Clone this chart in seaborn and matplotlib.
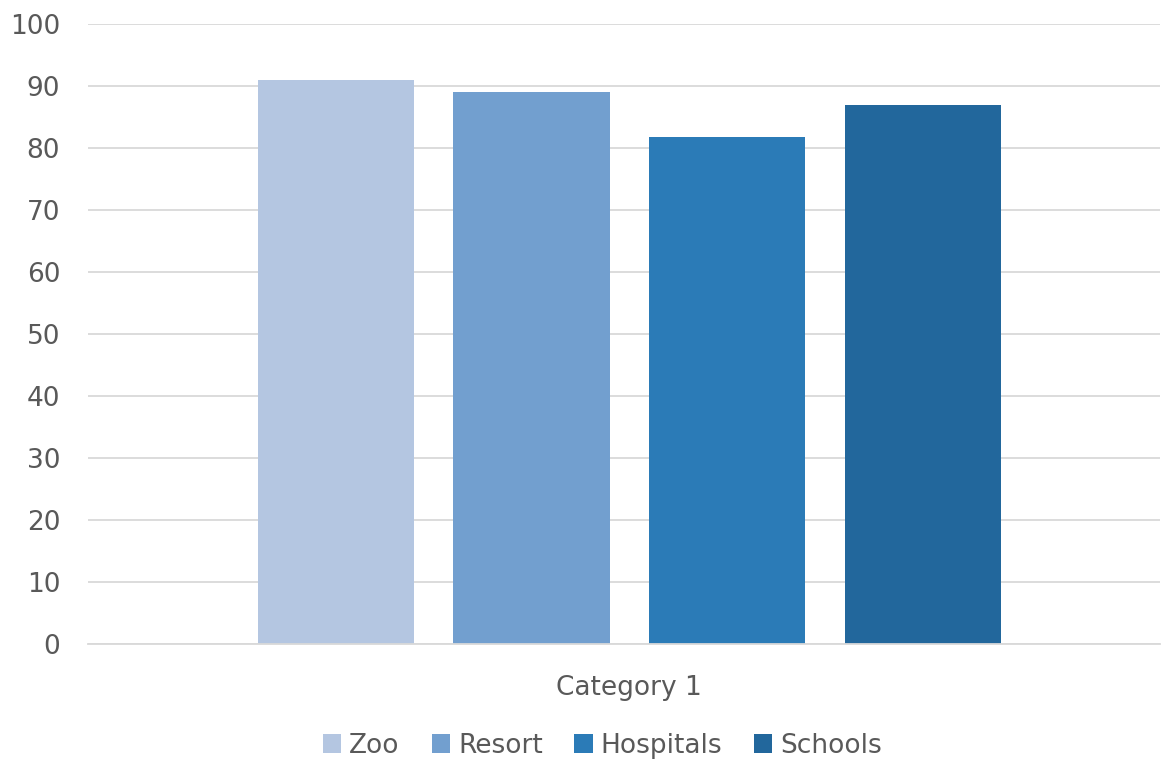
import pandas as pd
import matplotlib.pyplot as plt
import seaborn as sns

# datos
categorias = ["Category 1"]
series = ["Zoo", "Resort", "Hospitals", "Schools"]
valores = [91, 89, 81.7, 87]
colores = ["#B4C6E1", "#729FCF", "#2B7BB7", "#22679C"]

df = pd.DataFrame({
    "categoria": categorias * len(series),
    "serie": series,
    "valor": valores,
})

sns.set_theme(style="white")
plt.rcParams["font.family"] = ["DejaVu Sans"]
gris = "#595959"

fig = plt.figure(figsize=(11.61, 7.59), dpi=100)
ax = fig.add_axes([88 / 1161, 1 - 644 / 759, 1072 / 1161, 620 / 759])

sns.barplot(
    data=df, x="categoria", y="valor", hue="serie",
    palette=colores, width=0.73, gap=0.2, saturation=1, linewidth=0,
    ax=ax, legend=True,
)

ax.set_ylim(0, 100)
ax.set_yticks(range(0, 101, 10))
ax.set_xlim(-0.505, 0.495)
ax.yaxis.grid(True, color="#D9D9D9", linewidth=1.3)
ax.set_axisbelow(True)
for s in ["top", "right", "left"]:
    ax.spines[s].set_visible(False)
ax.spines["bottom"].set_color("#D9D9D9")
ax.spines["bottom"].set_linewidth(1.3)
ax.tick_params(axis="both", length=0, labelsize=19, colors=gris)
ax.tick_params(axis="y", pad=20)
ax.tick_params(axis="x", pad=22)
ax.set_xlabel("")
ax.set_ylabel("")

leg = ax.legend(
    loc="center", bbox_to_anchor=(0.48, -0.164), ncol=4, frameon=False,
    fontsize=19, handlelength=0.7, handleheight=0.7, handletextpad=0.3,
    columnspacing=1.2, labelcolor=gris,
)

plt.savefig("out.png", dpi=100)
